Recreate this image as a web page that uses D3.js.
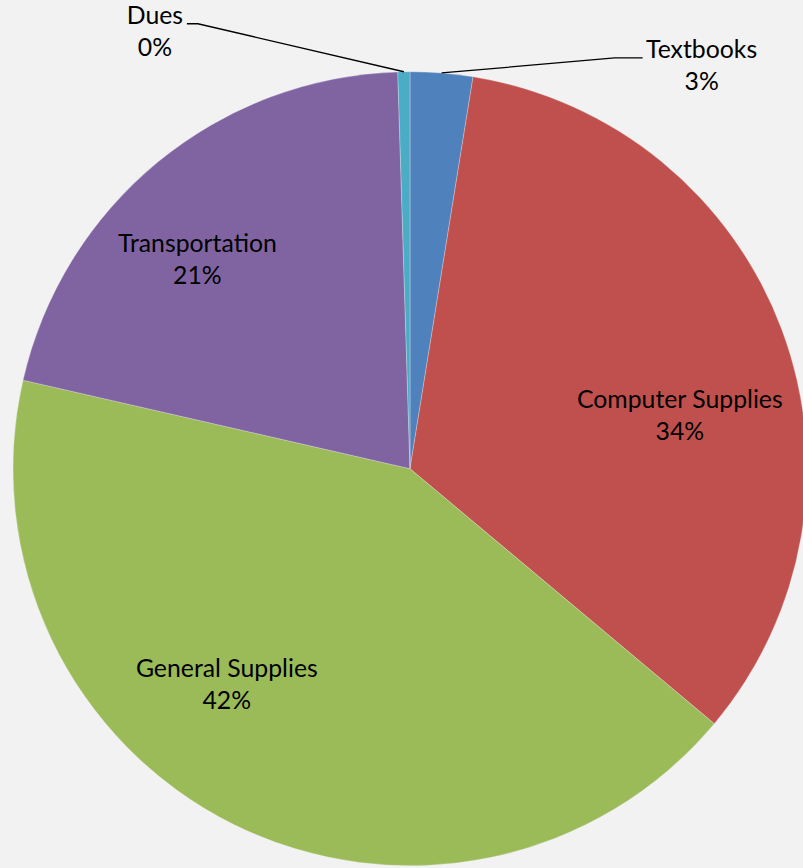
<!DOCTYPE html>
<html>
<head>
<meta charset="utf-8">
<title>Expenses Pie</title>
<script src="https://d3js.org/d3.v7.min.js"></script>
<style>
  body { margin: 0; background: #f2f2f2; }
  svg { display: block; }
  text { font-family: Lato, "Open Sans", sans-serif; fill: #000; }
</style>
</head>
<body>
<script>
// data
const categories = ["Textbooks", "Computer Supplies", "General Supplies", "Transportation", "Dues"];
const values = [2.54, 33.56, 42.48, 20.93, 0.49];
const colors = ["#4f81bd", "#c0504d", "#9bbb59", "#8064a2", "#4bacc6"];

const w = 803, h = 868;
const cx = 410, cy = 468.7, r = 397;
const fontSize = 24.8;
const lineGap = 32;

// label placement: inside labels nudge from centroid, outside ones get a leader line
const labelLayout = [
  { outside: true, elbow: [173, -15], tail: 28, text: 59 },
  { nudge: [2, 39] },
  { nudge: [-56, -48] },
  { nudge: [-31, 4] },
  { outside: true, elbow: [-206, -48], tail: -11, text: -32 }
];

const total = d3.sum(values);
const pct = values.map(v => Math.round(v / total * 100) + "%");

const svg = d3.select("body").append("svg").attr("width", w).attr("height", h);
svg.append("rect").attr("width", w).attr("height", h).attr("fill", "#f2f2f2");

const g = svg.append("g").attr("transform", "translate(" + cx + "," + cy + ")");

const pie = d3.pie().sort(null).value(d => d);
const arcs = pie(values);
const arc = d3.arc().innerRadius(0).outerRadius(r);
const labelArc = d3.arc().innerRadius(r * 0.72).outerRadius(r * 0.72);

g.selectAll("path.slice")
  .data(arcs)
  .enter().append("path")
  .attr("class", "slice")
  .attr("d", arc)
  .attr("fill", (d, i) => colors[i])
  .attr("stroke", "#f2f2f2")
  .attr("stroke-width", 0.3);

arcs.forEach((d, i) => {
  const lay = labelLayout[i];
  let x, y;
  if (lay.outside) {
    const mid = (d.startAngle + d.endAngle) / 2;
    const sx = Math.sin(mid) * r, sy = -Math.cos(mid) * r;
    const ex = sx + lay.elbow[0], ey = sy + lay.elbow[1];
    const tx = ex + lay.tail;
    g.append("polyline")
      .attr("points", [[sx, sy], [ex, ey], [tx, ey]].map(p => p.join(",")).join(" "))
      .attr("fill", "none")
      .attr("stroke", "#000")
      .attr("stroke-width", 1.3);
    x = tx + lay.text;
    y = ey;
  } else {
    const c = labelArc.centroid(d);
    x = c[0] + lay.nudge[0];
    y = c[1] + lay.nudge[1];
  }
  const t = g.append("text")
    .attr("text-anchor", "middle")
    .attr("font-size", fontSize);
  t.append("tspan").attr("x", x).attr("y", y).text(categories[i]);
  t.append("tspan").attr("x", x).attr("y", y + lineGap).text(pct[i]);
});
</script>
</body>
</html>
